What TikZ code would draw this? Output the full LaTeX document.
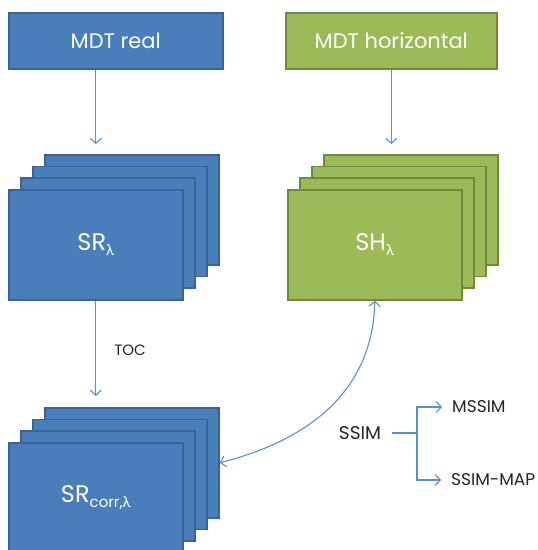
\documentclass[tikz,border=0pt]{standalone}
\usepackage{fontspec}
\setmainfont{Poppins}
\newfontfamily\grk{Lato}
\usetikzlibrary{arrows.meta}
\definecolor{bfill}{HTML}{4A7EBB}
\definecolor{bline}{HTML}{3A6496}
\definecolor{gfill}{HTML}{9BBB59}
\definecolor{gline}{HTML}{71893F}
\definecolor{arr}{HTML}{5B8FD0}
\definecolor{txt}{HTML}{262626}
\newcommand\mysub[1]{\raisebox{-0.4ex}{\fontsize{15}{15}\selectfont #1}}
\tikzset{
  boxbase/.style={line width=1.6pt, inner sep=0pt, anchor=north west, text=white},
  bluebox/.style={boxbase, draw=bline, fill=bfill},
  greenbox/.style={boxbase, draw=gline, fill=gfill},
  topbox/.style={minimum width=214pt, minimum height=56pt, font=\fontsize{21}{21}\selectfont},
  frame/.style={minimum width=174pt, minimum height=110pt, font=\fontsize{24}{24}\selectfont},
  conn/.style={draw=arr, line width=1.1pt, -{Straight Barb[length=5pt,width=11pt]}},
  lbl/.style={text=txt, inner sep=0pt}
}
\begin{document}
\begin{tikzpicture}[x=1pt,y=-1pt]
\clip (0,0) rectangle (538,550);
\fill[white] (0,0) rectangle (538,550);
% top boxes
\node[bluebox,topbox] (mdtr) at (8,12) {MDT real};
\node[greenbox,topbox,minimum width=211pt] (mdth) at (285,12) {MDT horizontal};
% SR stack
\node[bluebox,frame] (sr4) at (44,154) {};
\node[bluebox,frame] (sr3) at (32,165.7) {};
\node[bluebox,frame] (sr2) at (20,177.3) {};
\node[bluebox,frame] (sr1) at (8,189) {SR\mysub{\grk λ}};
% SH stack
\node[greenbox,frame] (sh4) at (323,154) {};
\node[greenbox,frame] (sh3) at (311,165.7) {};
\node[greenbox,frame] (sh2) at (299,177.3) {};
\node[greenbox,frame] (sh1) at (287,189) {SH\mysub{\grk λ}};
% SR corr stack
\node[bluebox,frame] (sc4) at (44,407) {};
\node[bluebox,frame] (sc3) at (32,418.7) {};
\node[bluebox,frame] (sc2) at (20,430.3) {};
\node[bluebox,frame] (sc1) at (8,442) {SR\mysub{corr,\grk λ}};
% arrows
\draw[conn, shorten >=10pt] (mdtr.south -| sr1.north) -- (sr4.north -| sr1.north);
\draw[conn, shorten >=10pt] (mdth.south) -- (sh4.north -| mdth.south);
\draw[conn, shorten >=11pt] (sr1.south) -- (sc4.north -| sr1.south);
\node[lbl, font=\fontsize{15}{15}\selectfont] (toc) at (130,350) {TOC};
\draw[draw=arr, line width=1.1pt, {Straight Barb[length=5pt,width=11pt]}-{Straight Barb[length=5pt,width=11pt]}]
  (sh1.south) .. controls (373,390) and (310,440) .. (sc4.east);
% SSIM
\node[lbl, font=\fontsize{18.5}{19}\selectfont] (ssim) at (360,433) {SSIM};
\node[lbl, font=\fontsize{17}{17}\selectfont, anchor=west] (mssim) at (452,407) {MSSIM};
\node[lbl, font=\fontsize{17}{17}\selectfont, anchor=west] (smap) at (451,480) {SSIM-MAP};
\coordinate (split) at (417,433);
\draw[draw=arr, line width=1.1pt] (392,433) -- (split);
\draw[conn, shorten >=10pt] (split) |- (mssim.west);
\draw[conn, shorten >=10pt] (split) |- (smap.west);
\end{tikzpicture}
\end{document}
